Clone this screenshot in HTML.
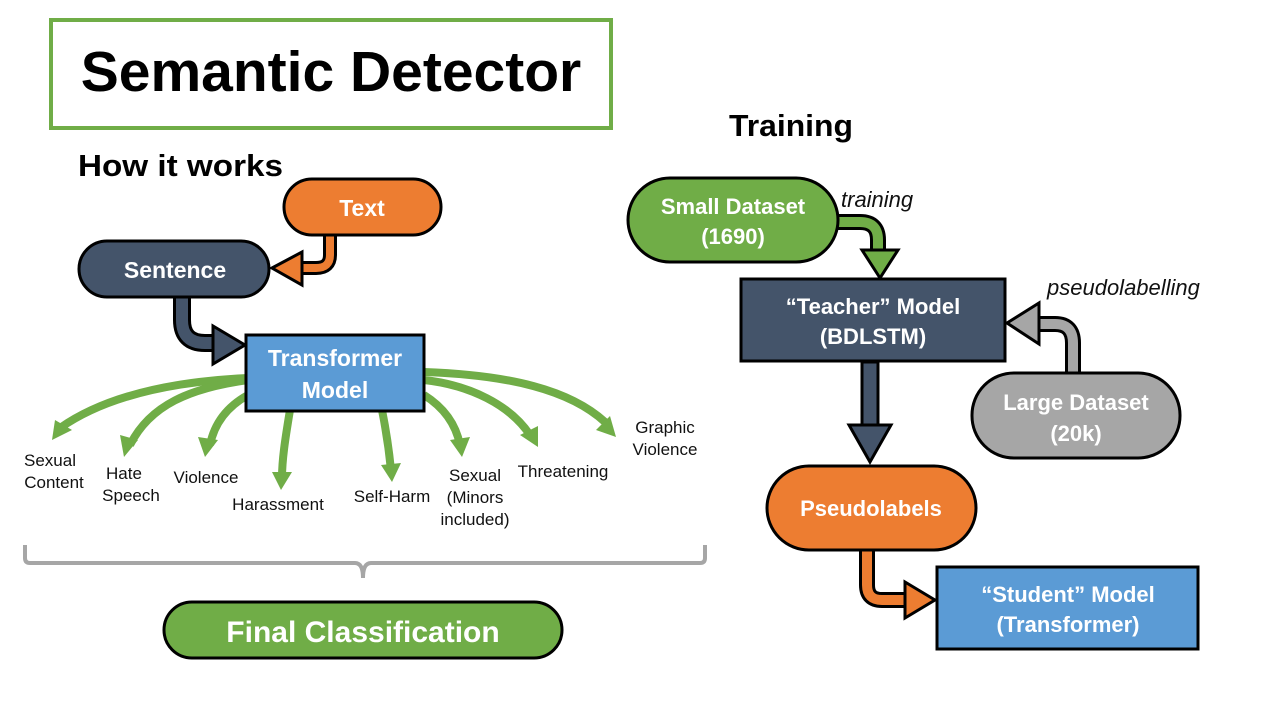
<!DOCTYPE html>
<html><head><meta charset="utf-8"><style>
html,body{margin:0;padding:0;background:#fff;}
svg{display:block;font-family:"Liberation Sans",sans-serif;}
.w{fill:#fff;font-weight:bold;text-anchor:middle;}
.l{fill:#111;font-size:17px;text-anchor:middle;}
</style></head><body>
<svg width="1280" height="720" viewBox="0 0 1280 720">
<!-- title -->
<rect x="51" y="20" width="560" height="108" fill="#fff" stroke="#70AD47" stroke-width="4"/>
<text x="331" y="91" text-anchor="middle" font-size="57" font-weight="bold">Semantic Detector</text>
<text x="78" y="176" font-size="31" font-weight="bold" textLength="205" lengthAdjust="spacingAndGlyphs">How it works</text>
<text x="729" y="136" font-size="31" font-weight="bold" textLength="124" lengthAdjust="spacingAndGlyphs">Training</text>

<!-- green fan arrows -->
<g fill="none" stroke="#70AD47" stroke-width="8">
<path d="M248,378 C160,382 100,400 60,428"/>
<path d="M248,380 C190,388 150,405 130,445"/>
<path d="M248,395 C230,405 215,420 210,445"/>
<path d="M290,410 C285,440 282,460 282,478"/>
<path d="M382,410 C388,440 390,460 391,470"/>
<path d="M424,395 C440,405 455,420 460,445"/>
<path d="M424,380 C470,385 510,405 530,435"/>
<path d="M424,372 C510,375 570,390 605,422"/>
</g>
<g fill="#70AD47">
<polygon points="52,440 55,420 72,430"/>
<polygon points="124,457 120,435 138,440"/>
<polygon points="205,457 198,437 218,440"/>
<polygon points="281,490 272,472 292,472"/>
<polygon points="392,482 381,465 401,463"/>
<polygon points="462,457 450,440 470,437"/>
<polygon points="538,447 520,435 538,426"/>
<polygon points="616,437 596,430 610,416"/>
</g>
<g class="l">
<text x="50" y="466">Sexual</text><text x="54" y="488">Content</text>
<text x="124" y="479">Hate</text><text x="131" y="501">Speech</text>
<text x="206" y="483">Violence</text>
<text x="278" y="510">Harassment</text>
<text x="392" y="502">Self-Harm</text>
<text x="475" y="481">Sexual</text><text x="475" y="503">(Minors</text><text x="475" y="525">included)</text>
<text x="563" y="477">Threatening</text>
<text x="665" y="433">Graphic</text><text x="665" y="455">Violence</text>
</g>

<!-- orange arrow text->sentence -->
<path d="M330,234 L330,255 Q330,268 316,268 L295,268" fill="none" stroke="#000" stroke-width="14"/>
<path d="M330,234 L330,255 Q330,268 316,268 L295,268" fill="none" stroke="#ED7D31" stroke-width="8"/>
<polygon points="272,268 302,252 302,285" fill="#ED7D31" stroke="#000" stroke-width="3"/>
<!-- dark arrow sentence->transformer -->
<path d="M182,295 L182,320 Q182,343 205,343 L220,343" fill="none" stroke="#000" stroke-width="18"/>
<path d="M182,295 L182,320 Q182,343 205,343 L222,343" fill="none" stroke="#44546A" stroke-width="12"/>
<polygon points="245,345 213,326 213,364" fill="#44546A" stroke="#000" stroke-width="3"/>

<rect x="284" y="179" width="157" height="56" rx="28" fill="#ED7D31" stroke="#000" stroke-width="3"/>
<text x="362" y="216" class="w" font-size="23">Text</text>
<rect x="79" y="241" width="190" height="56" rx="28" fill="#44546A" stroke="#000" stroke-width="3"/>
<text x="175" y="278" class="w" font-size="23">Sentence</text>
<rect x="246" y="335" width="178" height="76" fill="#5B9BD5" stroke="#000" stroke-width="3"/>
<text x="335" y="366" class="w" font-size="23">Transformer</text>
<text x="335" y="398" class="w" font-size="23">Model</text>

<!-- bracket -->
<path d="M25,545 L25,558 Q25,563 30,563 L355,563 Q363,563 363,578 Q363,563 371,563 L700,563 Q705,563 705,558 L705,545" fill="none" stroke="#A6A6A6" stroke-width="4"/>
<rect x="164" y="602" width="398" height="56" rx="28" fill="#70AD47" stroke="#000" stroke-width="3"/>
<text x="363" y="642" class="w" font-size="30">Final Classification</text>

<!-- right arrows -->
<path d="M836,222 L860,222 Q878,222 878,240 L878,252" fill="none" stroke="#000" stroke-width="16"/>
<path d="M836,222 L860,222 Q878,222 878,240 L878,254" fill="none" stroke="#70AD47" stroke-width="10"/>
<polygon points="880,278 862,250 898,250" fill="#70AD47" stroke="#000" stroke-width="3"/>

<path d="M1073,374 L1073,343 Q1073,324 1055,324 L1030,324" fill="none" stroke="#000" stroke-width="16"/>
<path d="M1073,376 L1073,343 Q1073,324 1055,324 L1028,324" fill="none" stroke="#A6A6A6" stroke-width="10"/>
<polygon points="1007,323 1039,303 1039,344" fill="#A6A6A6" stroke="#000" stroke-width="3"/>

<rect x="862" y="362" width="16" height="68" fill="#44546A" stroke="#000" stroke-width="3"/>
<polygon points="870,462 849,425 891,425" fill="#44546A" stroke="#000" stroke-width="3"/>

<path d="M867,548 L867,585 Q867,600 882,600 L910,600" fill="none" stroke="#000" stroke-width="16"/>
<path d="M867,546 L867,585 Q867,600 882,600 L912,600" fill="none" stroke="#ED7D31" stroke-width="10"/>
<polygon points="935,600 905,582 905,618" fill="#ED7D31" stroke="#000" stroke-width="3"/>

<rect x="628" y="178" width="210" height="84" rx="42" fill="#70AD47" stroke="#000" stroke-width="3"/>
<text x="733" y="214" class="w" font-size="22">Small Dataset</text>
<text x="733" y="244" class="w" font-size="22">(1690)</text>
<rect x="741" y="279" width="264" height="82" fill="#44546A" stroke="#000" stroke-width="3"/>
<text x="873" y="314" class="w" font-size="22">“Teacher” Model</text>
<text x="873" y="344" class="w" font-size="22">(BDLSTM)</text>
<rect x="972" y="373" width="208" height="85" rx="42" fill="#A6A6A6" stroke="#000" stroke-width="3"/>
<text x="1076" y="410" class="w" font-size="22">Large Dataset</text>
<text x="1076" y="441" class="w" font-size="22">(20k)</text>
<rect x="767" y="466" width="209" height="84" rx="42" fill="#ED7D31" stroke="#000" stroke-width="3"/>
<text x="871" y="516" class="w" font-size="22">Pseudolabels</text>
<rect x="937" y="567" width="261" height="82" fill="#5B9BD5" stroke="#000" stroke-width="3"/>
<text x="1068" y="602" class="w" font-size="22">“Student” Model</text>
<text x="1068" y="632" class="w" font-size="22">(Transformer)</text>

<text x="841" y="207" font-size="22" font-style="italic" fill="#111">training</text>
<text x="1047" y="295" font-size="22" font-style="italic" fill="#111">pseudolabelling</text>
</svg>
</body></html>
